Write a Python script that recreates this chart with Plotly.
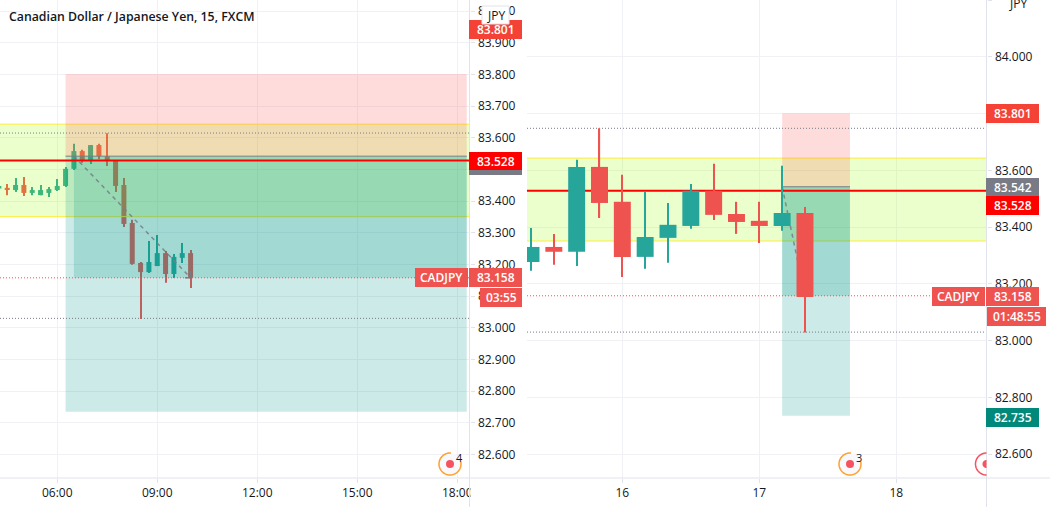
import numpy as np
import pandas as pd
import plotly.graph_objects as go
from plotly.subplots import make_subplots

W, H = 1050, 507

# left chart, 15 min candles
left_time = pd.date_range("2020-01-15 04:15", periods=24, freq="15min")
left_open = [83.440, 83.442, 83.435, 83.451, 83.426, 83.419, 83.426, 83.435, 83.448, 83.502, 83.558, 83.530, 83.577, 83.541, 83.530, 83.451, 83.331, 83.205, 83.176, 83.195, 83.236, 83.170, 83.221, 83.236]
left_high = [83.448, 83.454, 83.473, 83.476, 83.445, 83.451, 83.445, 83.470, 83.508, 83.581, 83.562, 83.577, 83.581, 83.614, 83.530, 83.473, 83.341, 83.208, 83.274, 83.293, 83.243, 83.233, 83.268, 83.246]
left_low = [83.440, 83.419, 83.429, 83.416, 83.419, 83.419, 83.413, 83.432, 83.445, 83.498, 83.521, 83.517, 83.532, 83.511, 83.429, 83.318, 83.199, 83.028, 83.173, 83.195, 83.142, 83.157, 83.205, 83.126]
left_close = [83.448, 83.436, 83.451, 83.426, 83.435, 83.435, 83.438, 83.448, 83.502, 83.558, 83.530, 83.577, 83.542, 83.530, 83.448, 83.328, 83.202, 83.176, 83.208, 83.236, 83.170, 83.224, 83.236, 83.158]

# right chart, 4 h candles
right_time = pd.date_range("2020-01-15 08:00", periods=13, freq="4h")
right_open = [83.277, 83.330, 83.313, 83.612, 83.489, 83.295, 83.362, 83.404, 83.528, 83.446, 83.422, 83.404, 83.450]
right_high = [83.397, 83.376, 83.637, 83.748, 83.584, 83.525, 83.485, 83.552, 83.623, 83.489, 83.489, 83.616, 83.471]
right_low = [83.246, 83.267, 83.263, 83.432, 83.224, 83.253, 83.274, 83.394, 83.425, 83.376, 83.344, 83.387, 83.029]
right_close = [83.330, 83.313, 83.612, 83.485, 83.295, 83.365, 83.408, 83.528, 83.443, 83.418, 83.404, 83.450, 83.154]

zone_low, zone_high = 83.351, 83.643
stop, entry, target, last_price, red_line = 83.801, 83.542, 82.735, 83.158, 83.528
left_dotted_high, right_dotted_high, dotted_low = 83.615, 83.748, 83.030

left_ticks = ["06:00", "09:00", "12:00", "15:00", "18:00"]
right_ticks = ["16", "17", "18"]

UP, DOWN = "#26a69a", "#ef5350"
GRID, AXIS, TEXT = "#f0f1f4", "#e0e3eb", "#131722"
FONT = "Open Sans"
DOTS = "1px,2px"


def px(x):
    return x / W


def py(y):
    return 1 - y / H


def add_candles(col, time, o, h, l, c, body_ms, wick_ms):
    o, h, l, c = map(np.array, (o, h, l, c))
    colors = [UP if b >= a else DOWN for a, b in zip(o, c)]
    fig.add_trace(go.Bar(x=time, y=h - l, base=l, width=wick_ms, marker=dict(color=colors, line=dict(width=0)),
                         hoverinfo="skip"), row=1, col=col)
    fig.add_trace(go.Bar(x=time, y=np.abs(c - o), base=np.minimum(o, c), width=body_ms,
                         marker=dict(color=colors, line=dict(width=0)), hoverinfo="skip"), row=1, col=col)


fig = make_subplots(rows=1, cols=2)
add_candles(1, left_time, left_open, left_high, left_low, left_close, 540000, 108000)
add_candles(2, right_time, right_open, right_high, right_low, right_close, 10700000, 800000)


def rect(xr, yr, x0, x1, y0, y1, fill, layer, line=None):
    fig.add_shape(type="rect", xref=xr, yref=yr, x0=x0, x1=x1, y0=y0, y1=y1, fillcolor=fill,
                  line=dict(width=0) if line is None else line, layer=layer)


def seg(xr, yr, x0, x1, y0, y1, color, width, dash, layer):
    fig.add_shape(type="line", xref=xr, yref=yr, x0=x0, x1=x1, y0=y0, y1=y1,
                  line=dict(color=color, width=width, dash=dash), layer=layer)


def overlays(xr, yr, start, end, rect0, rect1, inner0, arrow0, arrow1, dotted_high, layer):
    rect(xr, yr, start, end, zone_low, zone_high, "rgba(155,255,0,0.2)", layer)
    seg(xr, yr, start, end, zone_low, zone_low, "#ffeb3b", 1, "solid", layer)
    seg(xr, yr, start, end, zone_high, zone_high, "#ffeb3b", 1, "solid", layer)
    rect(xr, yr, rect0, rect1, entry, stop, "rgba(255,82,82,0.2)", layer)
    rect(xr, yr, rect0, rect1, target, entry, "rgba(0,150,136,0.2)", layer)
    rect(xr, yr, inner0, rect1, last_price, entry, "rgba(0,150,136,0.2)", layer)
    seg(xr, yr, rect0, rect1, entry, entry, "#787b86", 1, "solid", layer)
    seg(xr, yr, arrow0, arrow1, entry, last_price, "rgba(120,123,134,0.85)", 1.5, "4px,4px", layer)
    seg(xr, yr, start, end, dotted_high, dotted_high, "#787b86", 1, DOTS, layer)
    seg(xr, yr, start, end, dotted_low, dotted_low, "#787b86", 1, DOTS, layer)
    seg(xr, yr, start, end, last_price, last_price, DOWN, 1, DOTS, layer)
    seg(xr, yr, start, end, red_line, red_line, "#ff0000", 2, "solid", layer)


left_range = ["2020-01-15 04:17", "2020-01-15 18:22"]
right_range = ["2020-01-15 07:18", "2020-01-18 15:48"]
overlays("x", "y", left_range[0], left_range[1], "2020-01-15 06:15", "2020-01-15 18:17", "2020-01-15 06:30",
         "2020-01-15 06:30", "2020-01-15 10:00", left_dotted_high, "above")
overlays("x2", "y2", right_range[0], right_range[1], "2020-01-17 04:00", "2020-01-17 15:53", "2020-01-17 04:00",
         "2020-01-17 04:00", "2020-01-17 08:00", right_dotted_high, "between")
# arrow head on the left drawing
seg("x", "y", "2020-01-15 09:50", "2020-01-15 10:00", last_price, last_price, "#787b86", 1.5, "solid", "above")
seg("x", "y", "2020-01-15 10:00", "2020-01-15 10:00", last_price, 83.180, "#787b86", 1.5, "solid", "above")

# frame lines and the clipped 18:00 label
rect("paper", "paper", px(470.5), px(495), py(505), py(480), "white", "above")
seg("paper", "paper", 0, 1, py(478), py(478), AXIS, 1, "solid", "above")
seg("paper", "paper", px(469.5), px(469.5), 0, 1, AXIS, 1, "solid", "above")
seg("paper", "paper", px(986.5), px(986.5), 0, 1, AXIS, 1, "solid", "above")


def note(x, y, text, color=TEXT, size=12, weight=None, anchor="center"):
    fig.add_annotation(xref="paper", yref="paper", x=px(x), y=py(y), text=text, showarrow=False, xanchor=anchor,
                       yanchor="middle", font=dict(family=FONT, size=size, color=color, weight=weight))


def label(x0, x1, y0, y1, text, fill):
    rect("paper", "paper", px(x0), px(x1), py(y1), py(y0), fill, "above")
    note((x0 + x1) / 2, (y0 + y1) / 2, text, "white", 12, 600)


label(469, 522, 20, 39, f"{stop:.3f}", "#f44336")
label(469, 522, 170, 175, "", "#787b86")
label(469, 522, 152, 170, f"{red_line:.3f}", "#ff0000")
label(415, 468, 268, 287, "CADJPY", DOWN)
label(469, 522, 268, 287, f"{last_price:.3f}", DOWN)
label(480, 522, 288, 307, "03:55", DOWN)

label(986, 1039, 104, 123, f"{stop:.3f}", "#f44336")
label(986, 1039, 178, 196, f"{entry:.3f}", "#787b86")
label(986, 1039, 196, 215, f"{red_line:.3f}", "#ff0000")
label(932, 985, 287, 306, "CADJPY", DOWN)
label(986, 1039, 287, 306, f"{last_price:.3f}", DOWN)
label(987, 1046, 307, 326, "01:48:55", DOWN)
label(986, 1039, 408, 427, f"{target:.3f}", "#00897b")

fig.add_shape(type="rect", xref="paper", yref="paper", x0=px(482), x1=px(509), y0=py(24), y1=py(6), fillcolor="white",
              line=dict(color=AXIS, width=1), layer="above")
note(495.5, 15, "JPY")
note(1018, 3, "JPY")
note(7, 16, "Canadian Dollar / Japanese Yen, 15, FXCM", TEXT, 12.3, 600, "left")


def ring(cx, cy, r, a0, a1, color, fill=None):
    ang = np.radians(np.arange(a0, a1 + 1, 6))
    pts = [f"{px(cx + r * np.cos(a)):.5f},{py(cy - r * np.sin(a)):.5f}" for a in ang]
    path = "M" + " L".join(pts) + (" Z" if fill else "")
    fig.add_shape(type="path", xref="paper", yref="paper", path=path, fillcolor=fill,
                  line=dict(color=color, width=0 if fill else 1.5), layer="above")


def dot(cx, cy, r, color):
    fig.add_shape(type="circle", xref="paper", yref="paper", x0=px(cx - r), x1=px(cx + r), y0=py(cy + r), y1=py(cy - r),
                  fillcolor=color, line=dict(width=0), layer="above")


for cx, count in [(450, "4"), (850, "3")]:
    dot(cx, 464, 11, "#f8f9fd")
    ring(cx, 464, 11, 85, 375, "#ff9f2e")
    dot(cx, 464, 4, "#f7525f")
    note(cx + 9, 457, count, TEXT, 11)
ring(986.5, 464, 11, 90, 270, "#f7525f")
ring(986.5, 464, 4, 90, 270, "#f7525f", "#f7525f")

axis_common = dict(showgrid=True, gridcolor=GRID, gridwidth=1, zeroline=False, showline=False, ticks="outside",
                   ticklen=4, tickcolor=AXIS, tickfont=dict(family=FONT, size=12, color=TEXT), automargin=False)
fig.update_xaxes(domain=[px(0), px(469.5)], range=left_range, anchor="y",
                 tickvals=pd.date_range("2020-01-15 06:00", periods=5, freq="3h"), ticktext=left_ticks, **axis_common,
                 row=1, col=1)
fig.update_xaxes(domain=[px(527), px(986.5)], range=right_range, anchor="y2",
                 tickvals=pd.date_range("2020-01-16", periods=3, freq="1D"), ticktext=right_ticks, **axis_common,
                 row=1, col=2)
fig.update_yaxes(domain=[py(478), 1], range=[82.526, 84.035], side="right", anchor="x", dtick=0.1, tick0=83,
                 tickformat=".3f", ticklabelstandoff=1, **axis_common, row=1, col=1)
fig.update_yaxes(domain=[py(478), 1], range=[82.516, 84.2], side="right", anchor="x2", dtick=0.2, tick0=83,
                 tickformat=".3f", ticklabelstandoff=1, **axis_common, row=1, col=2)

fig.update_layout(width=W, height=H, margin=dict(l=0, r=0, t=0, b=0), paper_bgcolor="white", plot_bgcolor="white",
                  showlegend=False, barmode="overlay", hovermode=False)

fig.write_html("out.html", config=dict(displayModeBar=False),
               post_script="document.body.style.margin='0';document.body.style.overflow='hidden';")
